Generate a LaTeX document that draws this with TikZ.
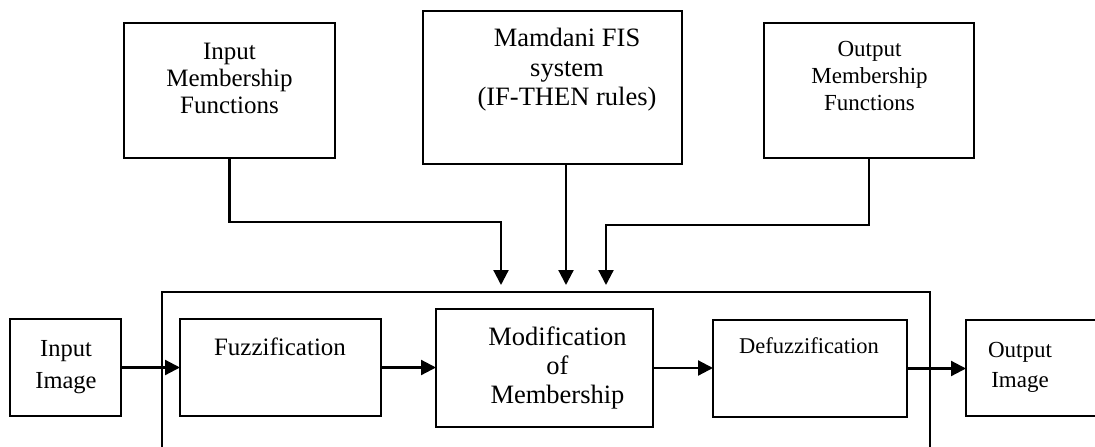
\documentclass[tikz,border=0pt]{standalone}
\usepackage{fontspec}
\setmainfont{Liberation Serif}
\usetikzlibrary{arrows.meta}
\newcommand\myfs[2]{\fontsize{#1}{#2}\selectfont}
\begin{document}
\begin{tikzpicture}[x=1pt,y=-1pt,
  box/.style={draw, line width=1.8pt, inner sep=0pt, outer sep=0pt},
  txt/.style={inner sep=0pt, align=center, anchor=base},
  arr/.style={line width=2.2pt, -{Triangle[length=15pt,width=15pt]}},
  frame/.style={line width=2.2pt}]
\useasboundingbox (0,0) rectangle (1095,447);
\clip (0,0) rectangle (1095,447);
% top boxes
\node[box, minimum width=211pt, minimum height=135pt] (imf) at (229.5,90.5) {};
\node[box, minimum width=259pt, minimum height=153pt] (mam) at (552.5,87.5) {};
\node[box, minimum width=210pt, minimum height=135pt] (omf) at (869,90.5) {};
% bottom boxes
\node[box, minimum width=111pt, minimum height=97pt] (inimg) at (65.5,367.5) {};
\node[box, minimum width=201pt, minimum height=97pt] (fuz) at (280.5,367.5) {};
\node[box, minimum width=217pt, minimum height=118pt] (mod) at (544.5,368) {};
\node[box, minimum width=194pt, minimum height=97pt] (def) at (810,368.5) {};
\node[box, minimum width=160pt, minimum height=96pt] (outimg) at (1046,368) {};
% texts (anchored at the baseline of the last line)
\node[txt, font=\myfs{25}{27}] (imft) at (229.5,113) {Input\\Membership\\Functions};
\node[txt, font=\myfs{26.5}{29.5}] (mamt) at (567,105.7) {Mamdani FIS\\system\\(IF-THEN rules)};
\node[txt, font=\myfs{23}{27}] (omft) at (869.5,110.7) {Output\\Membership\\Functions};
\node[txt, font=\myfs{24.5}{31.5}] (inimgt) at (66,388.2) {Input\\Image};
\node[txt, font=\myfs{25}{27}] (fuzt) at (280,355) {Fuzzification};
\node[txt, font=\myfs{26.5}{29}] (modt) at (557.5,403) {Modification\\of\\Membership};
\node[txt, font=\myfs{22.5}{27}] (deft) at (809,353) {Defuzzification};
\node[txt, font=\myfs{23}{30}] (outimgt) at (1020,387.7) {Output\\Image};
% outer frame
\coordinate (fbl) at (162,460);
\coordinate (ftl) at (162,292);
\coordinate (ftr) at (930,292);
\coordinate (fbr) at (930,460);
\draw[frame] (fbl) -- (ftl) -- (ftr) -- (fbr);
% arrow tips above the frame
\coordinate (t1) at (501,285);
\coordinate (t2) at (566,285);
\coordinate (t3) at (606,285);
\draw[arr] (imf.south) -- ++(0,64) -| (t1);
\draw[arr] (mam.south -| t2) -- (t2);
\draw[arr] (omf.south) -- ++(0,67) -| (t3);
% horizontal flow
\draw[arr] (inimg.east) -- (fuz.west);
\draw[arr] (fuz.east) -- (fuz.east -| mod.west);
\draw[arr] (mod.east) -- (mod.east -| def.west);
\draw[arr] (def.east) -- (def.east -| outimg.west);
\end{tikzpicture}
\end{document}
